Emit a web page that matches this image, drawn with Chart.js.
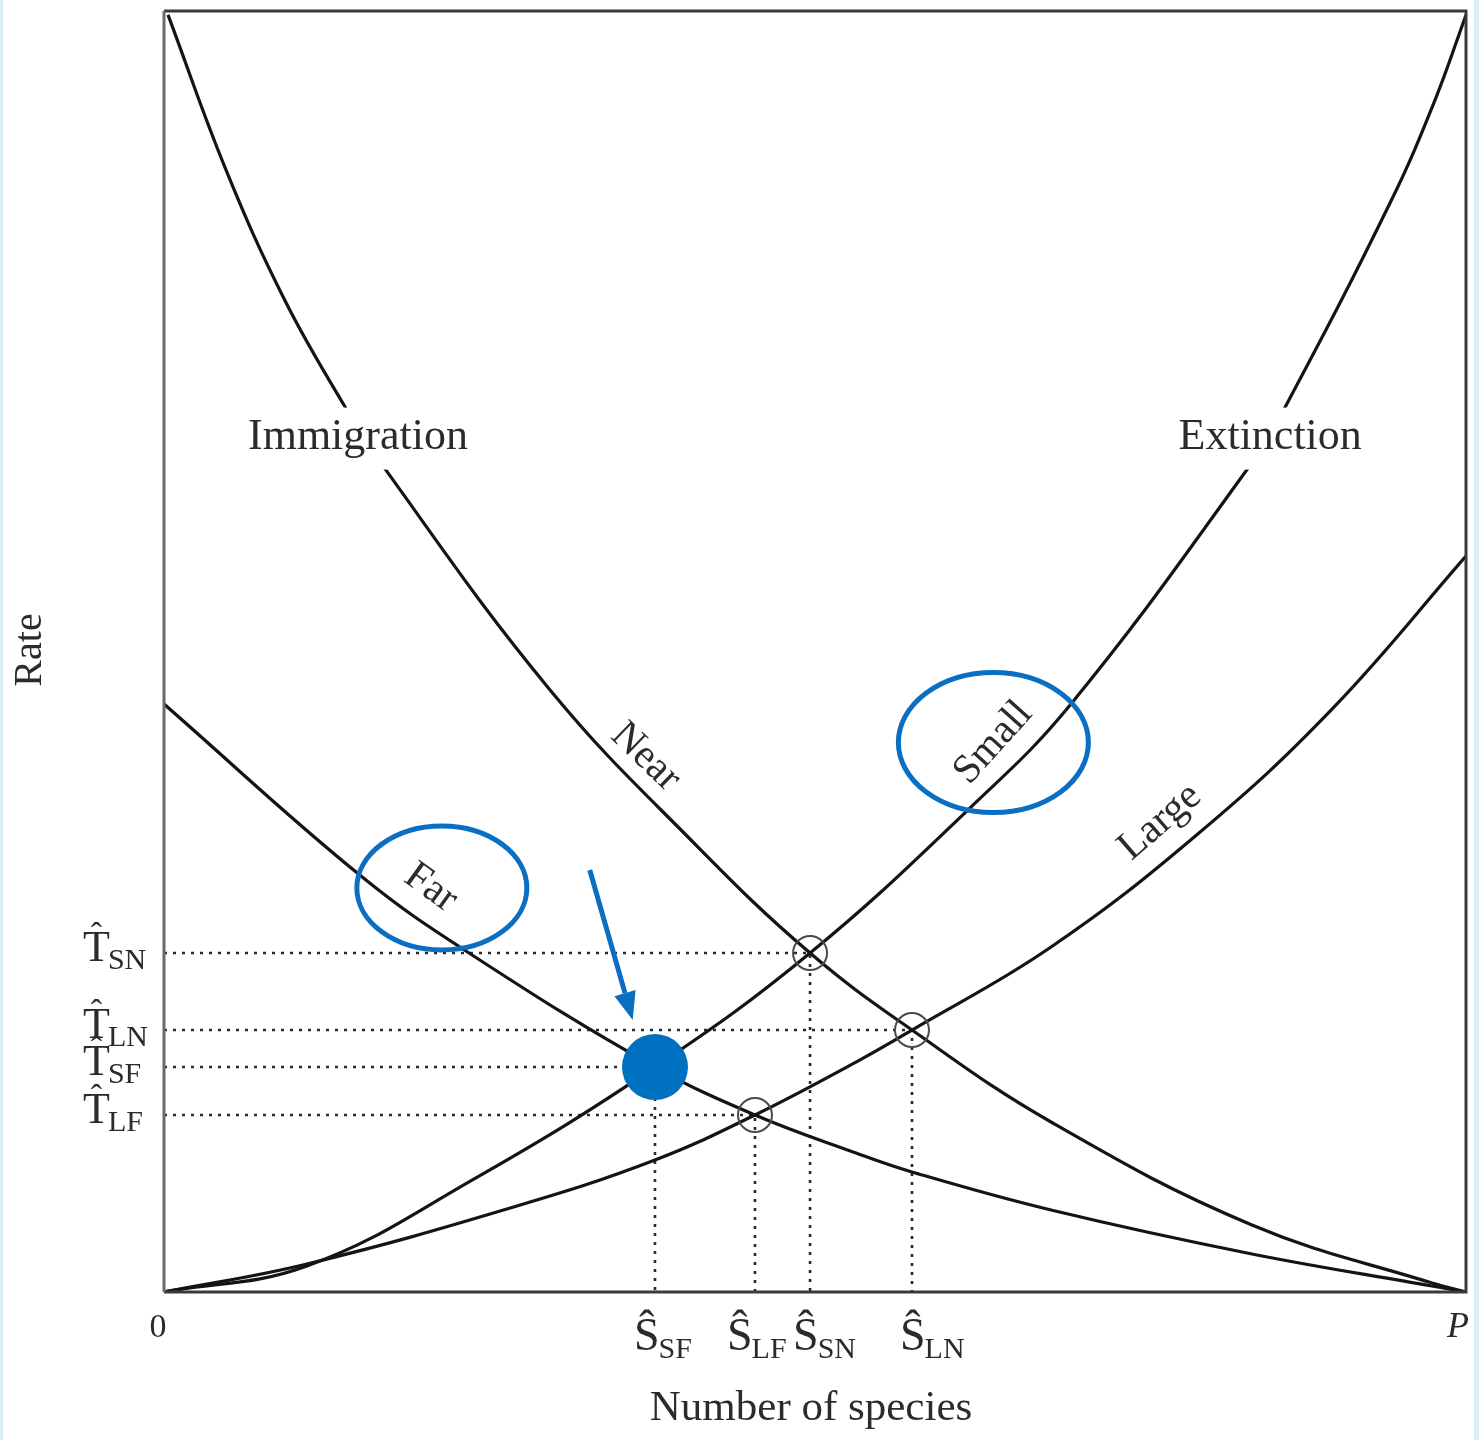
<!DOCTYPE html>
<html>
<head>
<meta charset="utf-8">
<title>Equilibrium theory of island biogeography</title>
<script src="https://cdn.jsdelivr.net/npm/chart.js@4.4.1/dist/chart.umd.min.js"></script>
<style>
  html, body { margin: 0; padding: 0; background: #ffffff; }
  #wrap { width: 1479px; height: 1440px; position: relative; }
  canvas { display: block; }
</style>
</head>
<body>
<div id="wrap"><canvas id="chart" width="1479" height="1440"></canvas></div>
<script>
// Number of species runs from 0 to P (scaled 0–100); rates are on a 0–100 scale.

// Immigration, near island
const nearSpecies = [0.31, 4.76, 9.29, 13.82, 16.59, 29.65, 40.86, 49.62, 57.45, 68.13, 83.56, 97.39, 100];
const nearRate    = [99.7, 87.6, 77.4, 69.24, 64.8, 47.0, 34.89, 26.46, 20.45, 13.27, 5.23, 0.7, 0];

// Immigration, far island
const farSpecies = [0, 15.13, 23.66, 37.71, 45.39, 53.15, 57.45, 68.13, 83.56, 97.39, 100];
const farRate    = [45.9, 32.47, 26.31, 17.56, 13.82, 10.85, 9.37, 6.4, 2.97, 0.47, 0];

// Extinction, small island
const smallSpecies = [0, 10.98, 23.66, 37.71, 49.62, 61.9, 69.66, 83.49, 85.87, 94.24, 97.62, 100];
const smallRate    = [0, 2.03, 8.74, 17.56, 26.46, 37.78, 45.9, 64.64, 68.62, 85.17, 93.05, 99.69];

// Extinction, large island
const largeSpecies = [0, 10.98, 27.11, 37.71, 45.39, 53.15, 57.45, 68.13, 79.49, 89.71, 100];
const largeRate    = [0, 2.19, 6.71, 10.3, 13.82, 17.95, 20.45, 26.93, 35.83, 45.5, 57.45];

// Equilibria: species number Ŝ and turnover rate T̂ for each island type
const eqKeys    = ['SN', 'LN', 'SF', 'LF'];
const eqSpecies = [49.62, 57.45, 37.71, 45.39];
const eqRate    = [26.46, 20.45, 17.56, 13.82];
const highlightKey = 'SF';

// Axis end labels
const xEndLabels = ['0', 'P'];

const pts = (xs, ys) => xs.map((v, i) => ({ x: v, y: ys[i] }));

const INK = '#141414';
const TEXT = '#2b2b2b';
const BLUE = '#0a6fc2';
const SERIF = '"Liberation Serif", "DejaVu Serif", serif';

function curve(label, xs, ys) {
  return {
    label, data: pts(xs, ys), showLine: true, order: 2,
    borderColor: INK, borderWidth: 3.2, pointRadius: 0,
    tension: 0.4, fill: false
  };
}

function guide(i) {
  return {
    label: 'guide ' + eqKeys[i],
    data: [{ x: 0, y: eqRate[i] }, { x: eqSpecies[i], y: eqRate[i] }, { x: eqSpecies[i], y: 0 }],
    showLine: true, order: 3, borderColor: '#2a2a2a', borderWidth: 2.6,
    borderDash: [3, 6], pointRadius: 0, tension: 0, fill: false
  };
}

const openIdx = eqKeys.map((k, i) => i).filter(i => eqKeys[i] !== highlightKey);
const hiIdx = eqKeys.indexOf(highlightKey);

const datasets = [
  {
    label: 'equilibrium ' + highlightKey,
    data: [{ x: eqSpecies[hiIdx], y: eqRate[hiIdx] }],
    order: 0, pointRadius: 33, pointBackgroundColor: '#0070c0', pointBorderWidth: 0,
    pointBorderColor: '#0070c0'
  },
  {
    label: 'equilibria',
    data: openIdx.map(i => ({ x: eqSpecies[i], y: eqRate[i] })),
    order: 1, pointRadius: 17, pointBackgroundColor: 'rgba(0,0,0,0)',
    pointBorderColor: '#4a4a4a', pointBorderWidth: 2
  },
  curve('Near', nearSpecies, nearRate),
  curve('Far', farSpecies, farRate),
  curve('Small', smallSpecies, smallRate),
  curve('Large', largeSpecies, largeRate),
  ...eqKeys.map((k, i) => guide(i))
];

// Text and highlight layout (data coordinates for anchors, pixels for sizes)
const curveLabels = [
  { text: 'Near',  x: 36.99, y: 41.76, angle: 44 },
  { text: 'Far',   x: 20.49, y: 31.54, angle: 36 },
  { text: 'Small', x: 63.7,  y: 42.86, angle: -48 },
  { text: 'Large', x: 76.5,  y: 36.68, angle: -41 }
];
const headLabels = [
  { text: 'Immigration', x: 14.9,  y: 66.7 },
  { text: 'Extinction',  x: 84.96, y: 66.7 }
];
const rings = [
  { x: 21.34, y: 31.54, rx: 85, ry: 62 },
  { x: 63.7,  y: 42.9,  rx: 95, ry: 70 }
];
const pointer = { from: { x: 32.7, y: 32.94 }, to: { x: 36.0, y: 21.23 } };
const speciesNudge = { SF: -21, LF: -28, SN: -17, LN: -12 };

function hatT(ctx, sub, left, base) {
  ctx.textAlign = 'left';
  ctx.textBaseline = 'alphabetic';
  ctx.font = '44px ' + SERIF;
  const w = ctx.measureText('T').width;
  ctx.fillText('T', left, base);
  ctx.font = '34px ' + SERIF;
  ctx.textAlign = 'center';
  ctx.fillText('\u02C6', left + w / 2, base - 15);
  ctx.textAlign = 'left';
  ctx.font = '30px ' + SERIF;
  ctx.fillText(sub, left + w - 2, base + 8);
}

function hatS(ctx, sub, left, base) {
  ctx.textAlign = 'left';
  ctx.textBaseline = 'alphabetic';
  ctx.font = '46px ' + SERIF;
  const w = ctx.measureText('\u015C').width;
  ctx.fillText('\u015C', left, base);
  ctx.font = '30px ' + SERIF;
  ctx.fillText(sub, left + w - 1, base + 8);
}

const overlay = {
  id: 'overlay',
  afterDatasetsDraw(chart) {
    const { ctx, chartArea: a, scales } = chart;
    const px = v => scales.x.getPixelForValue(v);
    const py = v => scales.y.getPixelForValue(v);
    ctx.save();

    // page edge tint
    ctx.fillStyle = '#dbeef1';
    ctx.fillRect(0, 0, 3, chart.height);
    ctx.fillRect(chart.width - 5, 0, 5, chart.height);

    // plot frame: lighter left edge, darker top, right and bottom
    ctx.lineWidth = 3;
    ctx.strokeStyle = '#3a3a3a';
    ctx.beginPath();
    ctx.moveTo(a.left, a.top);
    ctx.lineTo(a.right, a.top);
    ctx.lineTo(a.right, a.bottom);
    ctx.lineTo(a.left, a.bottom);
    ctx.stroke();
    ctx.strokeStyle = '#6a6a6a';
    ctx.beginPath();
    ctx.moveTo(a.left, a.top);
    ctx.lineTo(a.left, a.bottom);
    ctx.stroke();

    ctx.fillStyle = TEXT;

    // Immigration / Extinction headings, set into gaps in the curves
    ctx.font = '44px ' + SERIF;
    ctx.textAlign = 'center';
    ctx.textBaseline = 'middle';
    headLabels.forEach(h => {
      const cx = px(h.x), cy = py(h.y);
      const w = ctx.measureText(h.text).width;
      ctx.fillStyle = '#ffffff';
      ctx.fillRect(cx - w / 2 - 4, cy - 30, w + 8, 62);
      ctx.fillStyle = TEXT;
      ctx.fillText(h.text, cx, cy);
    });

    // curve names along the curves
    ctx.font = '41px ' + SERIF;
    curveLabels.forEach(l => {
      ctx.save();
      ctx.translate(px(l.x), py(l.y));
      ctx.rotate(l.angle * Math.PI / 180);
      ctx.textAlign = 'center';
      ctx.textBaseline = 'middle';
      ctx.fillText(l.text, 0, 0);
      ctx.restore();
    });

    // rate labels T̂ on the left
    eqKeys.forEach((k, i) => hatT(ctx, k, a.left - 81, py(eqRate[i]) + 8));

    // species labels Ŝ below the axis
    eqKeys.forEach((k, i) => hatS(ctx, k, px(eqSpecies[i]) + speciesNudge[k], a.bottom + 58));

    // axis ends
    ctx.font = '34px ' + SERIF;
    ctx.textAlign = 'center';
    ctx.textBaseline = 'middle';
    ctx.fillText(xEndLabels[0], px(0) - 6, a.bottom + 36);
    ctx.font = 'italic 36px ' + SERIF;
    ctx.fillText(xEndLabels[1], px(100) - 8, a.bottom + 36);

    // axis titles
    ctx.font = '43px ' + SERIF;
    ctx.fillText('Number of species', (a.left + a.right) / 2 - 4, a.bottom + 117);
    ctx.save();
    ctx.translate(30, 650);
    ctx.rotate(-Math.PI / 2);
    ctx.font = '40px ' + SERIF;
    ctx.fillText('Rate', 0, 0);
    ctx.restore();

    // blue highlight rings
    ctx.strokeStyle = BLUE;
    ctx.lineWidth = 5;
    rings.forEach(r => {
      ctx.beginPath();
      ctx.ellipse(px(r.x), py(r.y), r.rx, r.ry, 0, 0, Math.PI * 2);
      ctx.stroke();
    });

    // arrow to the highlighted equilibrium
    const x0 = px(pointer.from.x), y0 = py(pointer.from.y);
    const x1 = px(pointer.to.x), y1 = py(pointer.to.y);
    const ang = Math.atan2(y1 - y0, x1 - x0);
    const head = 28, half = 11;
    const bx = x1 - head * Math.cos(ang), by = y1 - head * Math.sin(ang);
    ctx.lineWidth = 5;
    ctx.beginPath();
    ctx.moveTo(x0, y0);
    ctx.lineTo(bx, by);
    ctx.stroke();
    ctx.fillStyle = BLUE;
    ctx.beginPath();
    ctx.moveTo(x1, y1);
    ctx.lineTo(bx + half * Math.sin(ang), by - half * Math.cos(ang));
    ctx.lineTo(bx - half * Math.sin(ang), by + half * Math.cos(ang));
    ctx.closePath();
    ctx.fill();

    ctx.restore();
  }
};

new Chart(document.getElementById('chart'), {
  type: 'scatter',
  data: { datasets },
  options: {
    responsive: false,
    animation: false,
    devicePixelRatio: 1,
    layout: { autoPadding: false, padding: { left: 164, top: 11, right: 13, bottom: 148 } },
    scales: {
      x: { type: 'linear', min: 0, max: 100, display: false },
      y: { type: 'linear', min: 0, max: 100, display: false }
    },
    plugins: { legend: { display: false }, tooltip: { enabled: false } }
  },
  plugins: [overlay]
});
</script>
</body>
</html>
